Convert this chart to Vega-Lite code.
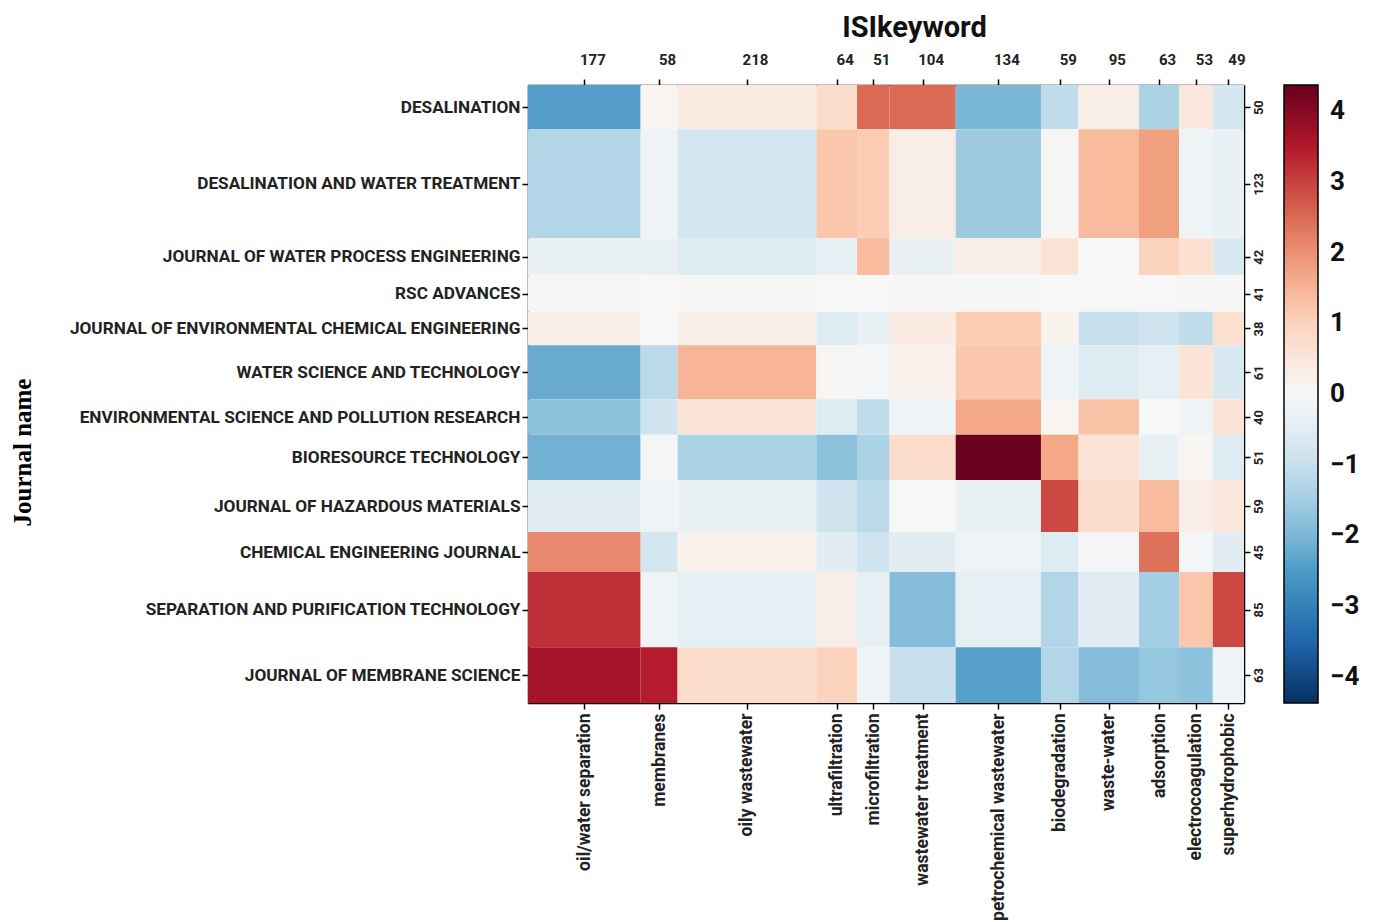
{
  "$schema": "https://vega.github.io/schema/vega-lite/v6.json",
  "width": 716,
  "height": 618,
  "autosize": {"type": "none"},
  "padding": {"left": 528, "top": 85, "right": 133, "bottom": 219},
  "background": "white",
  "datasets": {
    "keywords": [
      {"keyword": "oil/water separation", "kcount": 177, "korder": 1},
      {"keyword": "membranes", "kcount": 58, "korder": 2},
      {"keyword": "oily wastewater", "kcount": 218, "korder": 3},
      {"keyword": "ultrafiltration", "kcount": 64, "korder": 4},
      {"keyword": "microfiltration", "kcount": 51, "korder": 5},
      {"keyword": "wastewater treatment", "kcount": 104, "korder": 6},
      {"keyword": "petrochemical wastewater", "kcount": 134, "korder": 7},
      {"keyword": "biodegradation", "kcount": 59, "korder": 8},
      {"keyword": "waste-water", "kcount": 95, "korder": 9},
      {"keyword": "adsorption", "kcount": 63, "korder": 10},
      {"keyword": "electrocoagulation", "kcount": 53, "korder": 11},
      {"keyword": "superhydrophobic", "kcount": 49, "korder": 12}
    ],
    "journals": [
      {"journal": "DESALINATION", "jcount": 50, "jorder": 1},
      {"journal": "DESALINATION AND WATER TREATMENT", "jcount": 123, "jorder": 2},
      {"journal": "JOURNAL OF WATER PROCESS ENGINEERING", "jcount": 42, "jorder": 3},
      {"journal": "RSC ADVANCES", "jcount": 41, "jorder": 4},
      {"journal": "JOURNAL OF ENVIRONMENTAL CHEMICAL ENGINEERING", "jcount": 38, "jorder": 5},
      {"journal": "WATER SCIENCE AND TECHNOLOGY", "jcount": 61, "jorder": 6},
      {"journal": "ENVIRONMENTAL SCIENCE AND POLLUTION RESEARCH", "jcount": 40, "jorder": 7},
      {"journal": "BIORESOURCE TECHNOLOGY", "jcount": 51, "jorder": 8},
      {"journal": "JOURNAL OF HAZARDOUS MATERIALS", "jcount": 59, "jorder": 9},
      {"journal": "CHEMICAL ENGINEERING JOURNAL", "jcount": 45, "jorder": 10},
      {"journal": "SEPARATION AND PURIFICATION TECHNOLOGY", "jcount": 85, "jorder": 11},
      {"journal": "JOURNAL OF MEMBRANE SCIENCE", "jcount": 63, "jorder": 12}
    ],
    "cells": [
      {"journal": "DESALINATION", "keyword": "oil/water separation", "residual": -2.45},
      {"journal": "DESALINATION", "keyword": "membranes", "residual": 0.1},
      {"journal": "DESALINATION", "keyword": "oily wastewater", "residual": 0.4},
      {"journal": "DESALINATION", "keyword": "ultrafiltration", "residual": 0.8},
      {"journal": "DESALINATION", "keyword": "microfiltration", "residual": 2.5},
      {"journal": "DESALINATION", "keyword": "wastewater treatment", "residual": 2.5},
      {"journal": "DESALINATION", "keyword": "petrochemical wastewater", "residual": -2.0},
      {"journal": "DESALINATION", "keyword": "biodegradation", "residual": -1.1},
      {"journal": "DESALINATION", "keyword": "waste-water", "residual": 0.3},
      {"journal": "DESALINATION", "keyword": "adsorption", "residual": -1.4},
      {"journal": "DESALINATION", "keyword": "electrocoagulation", "residual": 0.5},
      {"journal": "DESALINATION", "keyword": "superhydrophobic", "residual": -0.8},
      {"journal": "DESALINATION AND WATER TREATMENT", "keyword": "oil/water separation", "residual": -1.3},
      {"journal": "DESALINATION AND WATER TREATMENT", "keyword": "membranes", "residual": -0.2},
      {"journal": "DESALINATION AND WATER TREATMENT", "keyword": "oily wastewater", "residual": -0.8},
      {"journal": "DESALINATION AND WATER TREATMENT", "keyword": "ultrafiltration", "residual": 1.2},
      {"journal": "DESALINATION AND WATER TREATMENT", "keyword": "microfiltration", "residual": 1.1},
      {"journal": "DESALINATION AND WATER TREATMENT", "keyword": "wastewater treatment", "residual": 0.3},
      {"journal": "DESALINATION AND WATER TREATMENT", "keyword": "petrochemical wastewater", "residual": -1.6},
      {"journal": "DESALINATION AND WATER TREATMENT", "keyword": "biodegradation", "residual": 0.05},
      {"journal": "DESALINATION AND WATER TREATMENT", "keyword": "waste-water", "residual": 1.4},
      {"journal": "DESALINATION AND WATER TREATMENT", "keyword": "adsorption", "residual": 1.8},
      {"journal": "DESALINATION AND WATER TREATMENT", "keyword": "electrocoagulation", "residual": -0.2},
      {"journal": "DESALINATION AND WATER TREATMENT", "keyword": "superhydrophobic", "residual": -0.3},
      {"journal": "JOURNAL OF WATER PROCESS ENGINEERING", "keyword": "oil/water separation", "residual": -0.3},
      {"journal": "JOURNAL OF WATER PROCESS ENGINEERING", "keyword": "membranes", "residual": -0.35},
      {"journal": "JOURNAL OF WATER PROCESS ENGINEERING", "keyword": "oily wastewater", "residual": -0.6},
      {"journal": "JOURNAL OF WATER PROCESS ENGINEERING", "keyword": "ultrafiltration", "residual": -0.4},
      {"journal": "JOURNAL OF WATER PROCESS ENGINEERING", "keyword": "microfiltration", "residual": 1.4},
      {"journal": "JOURNAL OF WATER PROCESS ENGINEERING", "keyword": "wastewater treatment", "residual": -0.3},
      {"journal": "JOURNAL OF WATER PROCESS ENGINEERING", "keyword": "petrochemical wastewater", "residual": 0.3},
      {"journal": "JOURNAL OF WATER PROCESS ENGINEERING", "keyword": "biodegradation", "residual": 0.6},
      {"journal": "JOURNAL OF WATER PROCESS ENGINEERING", "keyword": "waste-water", "residual": 0.0},
      {"journal": "JOURNAL OF WATER PROCESS ENGINEERING", "keyword": "adsorption", "residual": 1.0},
      {"journal": "JOURNAL OF WATER PROCESS ENGINEERING", "keyword": "electrocoagulation", "residual": 0.7},
      {"journal": "JOURNAL OF WATER PROCESS ENGINEERING", "keyword": "superhydrophobic", "residual": -0.7},
      {"journal": "RSC ADVANCES", "keyword": "oil/water separation", "residual": 0.05},
      {"journal": "RSC ADVANCES", "keyword": "membranes", "residual": 0.0},
      {"journal": "RSC ADVANCES", "keyword": "oily wastewater", "residual": 0.02},
      {"journal": "RSC ADVANCES", "keyword": "ultrafiltration", "residual": 0.0},
      {"journal": "RSC ADVANCES", "keyword": "microfiltration", "residual": 0.0},
      {"journal": "RSC ADVANCES", "keyword": "wastewater treatment", "residual": 0.02},
      {"journal": "RSC ADVANCES", "keyword": "petrochemical wastewater", "residual": 0.02},
      {"journal": "RSC ADVANCES", "keyword": "biodegradation", "residual": 0.0},
      {"journal": "RSC ADVANCES", "keyword": "waste-water", "residual": 0.0},
      {"journal": "RSC ADVANCES", "keyword": "adsorption", "residual": 0.0},
      {"journal": "RSC ADVANCES", "keyword": "electrocoagulation", "residual": 0.02},
      {"journal": "RSC ADVANCES", "keyword": "superhydrophobic", "residual": 0.02},
      {"journal": "JOURNAL OF ENVIRONMENTAL CHEMICAL ENGINEERING", "keyword": "oil/water separation", "residual": 0.3},
      {"journal": "JOURNAL OF ENVIRONMENTAL CHEMICAL ENGINEERING", "keyword": "membranes", "residual": 0.0},
      {"journal": "JOURNAL OF ENVIRONMENTAL CHEMICAL ENGINEERING", "keyword": "oily wastewater", "residual": 0.25},
      {"journal": "JOURNAL OF ENVIRONMENTAL CHEMICAL ENGINEERING", "keyword": "ultrafiltration", "residual": -0.6},
      {"journal": "JOURNAL OF ENVIRONMENTAL CHEMICAL ENGINEERING", "keyword": "microfiltration", "residual": -0.3},
      {"journal": "JOURNAL OF ENVIRONMENTAL CHEMICAL ENGINEERING", "keyword": "wastewater treatment", "residual": 0.4},
      {"journal": "JOURNAL OF ENVIRONMENTAL CHEMICAL ENGINEERING", "keyword": "petrochemical wastewater", "residual": 1.1},
      {"journal": "JOURNAL OF ENVIRONMENTAL CHEMICAL ENGINEERING", "keyword": "biodegradation", "residual": 0.2},
      {"journal": "JOURNAL OF ENVIRONMENTAL CHEMICAL ENGINEERING", "keyword": "waste-water", "residual": -1.0},
      {"journal": "JOURNAL OF ENVIRONMENTAL CHEMICAL ENGINEERING", "keyword": "adsorption", "residual": -0.9},
      {"journal": "JOURNAL OF ENVIRONMENTAL CHEMICAL ENGINEERING", "keyword": "electrocoagulation", "residual": -1.1},
      {"journal": "JOURNAL OF ENVIRONMENTAL CHEMICAL ENGINEERING", "keyword": "superhydrophobic", "residual": 0.7},
      {"journal": "WATER SCIENCE AND TECHNOLOGY", "keyword": "oil/water separation", "residual": -2.2},
      {"journal": "WATER SCIENCE AND TECHNOLOGY", "keyword": "membranes", "residual": -1.2},
      {"journal": "WATER SCIENCE AND TECHNOLOGY", "keyword": "oily wastewater", "residual": 1.5},
      {"journal": "WATER SCIENCE AND TECHNOLOGY", "keyword": "ultrafiltration", "residual": 0.05},
      {"journal": "WATER SCIENCE AND TECHNOLOGY", "keyword": "microfiltration", "residual": -0.1},
      {"journal": "WATER SCIENCE AND TECHNOLOGY", "keyword": "wastewater treatment", "residual": 0.2},
      {"journal": "WATER SCIENCE AND TECHNOLOGY", "keyword": "petrochemical wastewater", "residual": 1.2},
      {"journal": "WATER SCIENCE AND TECHNOLOGY", "keyword": "biodegradation", "residual": -0.2},
      {"journal": "WATER SCIENCE AND TECHNOLOGY", "keyword": "waste-water", "residual": -0.6},
      {"journal": "WATER SCIENCE AND TECHNOLOGY", "keyword": "adsorption", "residual": -0.4},
      {"journal": "WATER SCIENCE AND TECHNOLOGY", "keyword": "electrocoagulation", "residual": 0.6},
      {"journal": "WATER SCIENCE AND TECHNOLOGY", "keyword": "superhydrophobic", "residual": -0.7},
      {"journal": "ENVIRONMENTAL SCIENCE AND POLLUTION RESEARCH", "keyword": "oil/water separation", "residual": -1.8},
      {"journal": "ENVIRONMENTAL SCIENCE AND POLLUTION RESEARCH", "keyword": "membranes", "residual": -0.9},
      {"journal": "ENVIRONMENTAL SCIENCE AND POLLUTION RESEARCH", "keyword": "oily wastewater", "residual": 0.6},
      {"journal": "ENVIRONMENTAL SCIENCE AND POLLUTION RESEARCH", "keyword": "ultrafiltration", "residual": -0.6},
      {"journal": "ENVIRONMENTAL SCIENCE AND POLLUTION RESEARCH", "keyword": "microfiltration", "residual": -1.1},
      {"journal": "ENVIRONMENTAL SCIENCE AND POLLUTION RESEARCH", "keyword": "wastewater treatment", "residual": -0.2},
      {"journal": "ENVIRONMENTAL SCIENCE AND POLLUTION RESEARCH", "keyword": "petrochemical wastewater", "residual": 1.7},
      {"journal": "ENVIRONMENTAL SCIENCE AND POLLUTION RESEARCH", "keyword": "biodegradation", "residual": 0.1},
      {"journal": "ENVIRONMENTAL SCIENCE AND POLLUTION RESEARCH", "keyword": "waste-water", "residual": 1.3},
      {"journal": "ENVIRONMENTAL SCIENCE AND POLLUTION RESEARCH", "keyword": "adsorption", "residual": 0.0},
      {"journal": "ENVIRONMENTAL SCIENCE AND POLLUTION RESEARCH", "keyword": "electrocoagulation", "residual": -0.2},
      {"journal": "ENVIRONMENTAL SCIENCE AND POLLUTION RESEARCH", "keyword": "superhydrophobic", "residual": 0.6},
      {"journal": "BIORESOURCE TECHNOLOGY", "keyword": "oil/water separation", "residual": -2.1},
      {"journal": "BIORESOURCE TECHNOLOGY", "keyword": "membranes", "residual": -0.1},
      {"journal": "BIORESOURCE TECHNOLOGY", "keyword": "oily wastewater", "residual": -1.4},
      {"journal": "BIORESOURCE TECHNOLOGY", "keyword": "ultrafiltration", "residual": -1.8},
      {"journal": "BIORESOURCE TECHNOLOGY", "keyword": "microfiltration", "residual": -1.4},
      {"journal": "BIORESOURCE TECHNOLOGY", "keyword": "wastewater treatment", "residual": 0.8},
      {"journal": "BIORESOURCE TECHNOLOGY", "keyword": "petrochemical wastewater", "residual": 4.35},
      {"journal": "BIORESOURCE TECHNOLOGY", "keyword": "biodegradation", "residual": 1.7},
      {"journal": "BIORESOURCE TECHNOLOGY", "keyword": "waste-water", "residual": 0.6},
      {"journal": "BIORESOURCE TECHNOLOGY", "keyword": "adsorption", "residual": -0.3},
      {"journal": "BIORESOURCE TECHNOLOGY", "keyword": "electrocoagulation", "residual": 0.1},
      {"journal": "BIORESOURCE TECHNOLOGY", "keyword": "superhydrophobic", "residual": -0.6},
      {"journal": "JOURNAL OF HAZARDOUS MATERIALS", "keyword": "oil/water separation", "residual": -0.5},
      {"journal": "JOURNAL OF HAZARDOUS MATERIALS", "keyword": "membranes", "residual": -0.2},
      {"journal": "JOURNAL OF HAZARDOUS MATERIALS", "keyword": "oily wastewater", "residual": -0.3},
      {"journal": "JOURNAL OF HAZARDOUS MATERIALS", "keyword": "ultrafiltration", "residual": -0.9},
      {"journal": "JOURNAL OF HAZARDOUS MATERIALS", "keyword": "microfiltration", "residual": -1.2},
      {"journal": "JOURNAL OF HAZARDOUS MATERIALS", "keyword": "wastewater treatment", "residual": 0.0},
      {"journal": "JOURNAL OF HAZARDOUS MATERIALS", "keyword": "petrochemical wastewater", "residual": -0.3},
      {"journal": "JOURNAL OF HAZARDOUS MATERIALS", "keyword": "biodegradation", "residual": 2.9},
      {"journal": "JOURNAL OF HAZARDOUS MATERIALS", "keyword": "waste-water", "residual": 0.8},
      {"journal": "JOURNAL OF HAZARDOUS MATERIALS", "keyword": "adsorption", "residual": 1.4},
      {"journal": "JOURNAL OF HAZARDOUS MATERIALS", "keyword": "electrocoagulation", "residual": 0.3},
      {"journal": "JOURNAL OF HAZARDOUS MATERIALS", "keyword": "superhydrophobic", "residual": 0.5},
      {"journal": "CHEMICAL ENGINEERING JOURNAL", "keyword": "oil/water separation", "residual": 2.1},
      {"journal": "CHEMICAL ENGINEERING JOURNAL", "keyword": "membranes", "residual": -0.8},
      {"journal": "CHEMICAL ENGINEERING JOURNAL", "keyword": "oily wastewater", "residual": 0.2},
      {"journal": "CHEMICAL ENGINEERING JOURNAL", "keyword": "ultrafiltration", "residual": -0.5},
      {"journal": "CHEMICAL ENGINEERING JOURNAL", "keyword": "microfiltration", "residual": -0.9},
      {"journal": "CHEMICAL ENGINEERING JOURNAL", "keyword": "wastewater treatment", "residual": -0.5},
      {"journal": "CHEMICAL ENGINEERING JOURNAL", "keyword": "petrochemical wastewater", "residual": -0.2},
      {"journal": "CHEMICAL ENGINEERING JOURNAL", "keyword": "biodegradation", "residual": -0.6},
      {"journal": "CHEMICAL ENGINEERING JOURNAL", "keyword": "waste-water", "residual": -0.1},
      {"journal": "CHEMICAL ENGINEERING JOURNAL", "keyword": "adsorption", "residual": 2.4},
      {"journal": "CHEMICAL ENGINEERING JOURNAL", "keyword": "electrocoagulation", "residual": -0.1},
      {"journal": "CHEMICAL ENGINEERING JOURNAL", "keyword": "superhydrophobic", "residual": -0.5},
      {"journal": "SEPARATION AND PURIFICATION TECHNOLOGY", "keyword": "oil/water separation", "residual": 3.2},
      {"journal": "SEPARATION AND PURIFICATION TECHNOLOGY", "keyword": "membranes", "residual": -0.2},
      {"journal": "SEPARATION AND PURIFICATION TECHNOLOGY", "keyword": "oily wastewater", "residual": -0.4},
      {"journal": "SEPARATION AND PURIFICATION TECHNOLOGY", "keyword": "ultrafiltration", "residual": 0.3},
      {"journal": "SEPARATION AND PURIFICATION TECHNOLOGY", "keyword": "microfiltration", "residual": -0.4},
      {"journal": "SEPARATION AND PURIFICATION TECHNOLOGY", "keyword": "wastewater treatment", "residual": -1.9},
      {"journal": "SEPARATION AND PURIFICATION TECHNOLOGY", "keyword": "petrochemical wastewater", "residual": -0.4},
      {"journal": "SEPARATION AND PURIFICATION TECHNOLOGY", "keyword": "biodegradation", "residual": -1.3},
      {"journal": "SEPARATION AND PURIFICATION TECHNOLOGY", "keyword": "waste-water", "residual": -0.5},
      {"journal": "SEPARATION AND PURIFICATION TECHNOLOGY", "keyword": "adsorption", "residual": -1.5},
      {"journal": "SEPARATION AND PURIFICATION TECHNOLOGY", "keyword": "electrocoagulation", "residual": 1.2},
      {"journal": "SEPARATION AND PURIFICATION TECHNOLOGY", "keyword": "superhydrophobic", "residual": 2.9},
      {"journal": "JOURNAL OF MEMBRANE SCIENCE", "keyword": "oil/water separation", "residual": 3.65},
      {"journal": "JOURNAL OF MEMBRANE SCIENCE", "keyword": "membranes", "residual": 3.45},
      {"journal": "JOURNAL OF MEMBRANE SCIENCE", "keyword": "oily wastewater", "residual": 0.8},
      {"journal": "JOURNAL OF MEMBRANE SCIENCE", "keyword": "ultrafiltration", "residual": 1.0},
      {"journal": "JOURNAL OF MEMBRANE SCIENCE", "keyword": "microfiltration", "residual": -0.2},
      {"journal": "JOURNAL OF MEMBRANE SCIENCE", "keyword": "wastewater treatment", "residual": -1.0},
      {"journal": "JOURNAL OF MEMBRANE SCIENCE", "keyword": "petrochemical wastewater", "residual": -2.4},
      {"journal": "JOURNAL OF MEMBRANE SCIENCE", "keyword": "biodegradation", "residual": -1.3},
      {"journal": "JOURNAL OF MEMBRANE SCIENCE", "keyword": "waste-water", "residual": -1.9},
      {"journal": "JOURNAL OF MEMBRANE SCIENCE", "keyword": "adsorption", "residual": -1.7},
      {"journal": "JOURNAL OF MEMBRANE SCIENCE", "keyword": "electrocoagulation", "residual": -1.8},
      {"journal": "JOURNAL OF MEMBRANE SCIENCE", "keyword": "superhydrophobic", "residual": -0.2}
    ]
  },
  "data": {"name": "cells"},
  "transform": [
    {"lookup": "keyword", "from": {"data": {"name": "keywords"}, "key": "keyword", "fields": ["kcount", "korder"]}},
    {"lookup": "journal", "from": {"data": {"name": "journals"}, "key": "journal", "fields": ["jcount", "jorder"]}},
    {"window": [{"op": "sum", "field": "kcount", "as": "xEnd"}], "groupby": ["journal"], "sort": [{"field": "korder", "order": "ascending"}], "frame": [null, 0]},
    {"window": [{"op": "sum", "field": "jcount", "as": "yEnd"}], "groupby": ["keyword"], "sort": [{"field": "jorder", "order": "ascending"}], "frame": [null, 0]},
    {"calculate": "datum.xEnd - datum.kcount", "as": "xStart"},
    {"calculate": "datum.yEnd - datum.jcount", "as": "yStart"}
  ],
  "layer": [
    {
      "mark": {"type": "rect"},
      "encoding": {
        "x": {
          "field": "xStart", "type": "quantitative",
          "scale": {"domain": [0, 1125], "nice": false, "zero": false},
          "axis": {
            "orient": "bottom", "title": null,
            "values": [88.5, 206, 344, 485, 542.5, 620, 739, 835.5, 912.5, 991.5, 1049.5, 1100.5],
            "labelExpr": "['oil/water separation','membranes','oily wastewater','ultrafiltration','microfiltration','wastewater treatment','petrochemical wastewater','biodegradation','waste-water','adsorption','electrocoagulation','superhydrophobic'][indexof([88.5, 206, 344, 485, 542.5, 620, 739, 835.5, 912.5, 991.5, 1049.5, 1100.5], datum.value)]",
            "labelAngle": 270, "labelAlign": "right", "labelBaseline": "middle",
            "labelFontSize": 17.5, "labelPadding": 4, "labelOverlap": false, "labelFlush": false, "labelLimit": 0
          }
        },
        "x2": {"field": "xEnd"},
        "y": {
          "field": "yStart", "type": "quantitative",
          "scale": {"domain": [0, 698], "nice": false, "zero": false, "reverse": true},
          "axis": {
            "orient": "left",
            "values": [25, 111.5, 194, 235.5, 275, 324.5, 375, 420.5, 475.5, 527.5, 592.5, 666.5],
            "labelExpr": "['DESALINATION','DESALINATION AND WATER TREATMENT','JOURNAL OF WATER PROCESS ENGINEERING','RSC ADVANCES','JOURNAL OF ENVIRONMENTAL CHEMICAL ENGINEERING','WATER SCIENCE AND TECHNOLOGY','ENVIRONMENTAL SCIENCE AND POLLUTION RESEARCH','BIORESOURCE TECHNOLOGY','JOURNAL OF HAZARDOUS MATERIALS','CHEMICAL ENGINEERING JOURNAL','SEPARATION AND PURIFICATION TECHNOLOGY','JOURNAL OF MEMBRANE SCIENCE'][indexof([25, 111.5, 194, 235.5, 275, 324.5, 375, 420.5, 475.5, 527.5, 592.5, 666.5], datum.value)]",
            "labelFontSize": 17.2, "labelPadding": 2, "labelOverlap": false, "labelFlush": false, "labelLimit": 0,
            "title": "Journal name",
            "titleFont": "Liberation Serif", "titleFontSize": 25, "titleFontWeight": "bold", "titleColor": "black",
            "titleAngle": 270, "titleAlign": "center", "titleBaseline": "middle",
            "titleX": -506, "titleY": 367
          }
        },
        "y2": {"field": "yEnd"},
        "color": {
          "field": "residual", "type": "quantitative",
          "scale": {
            "domain": [-4.37, -3.496, -2.622, -1.748, -0.874, 0, 0.874, 1.748, 2.622, 3.496, 4.37],
            "range": ["#053061", "#2166ac", "#4393c3", "#92c5de", "#d1e5f0", "#f7f7f7", "#fddbc7", "#f4a582", "#d6604d", "#b2182b", "#67001f"],
            "interpolate": "rgb"
          },
          "legend": {
            "orient": "none", "legendX": 756, "legendY": 0,
            "direction": "vertical", "title": null,
            "gradientLength": 618, "gradientThickness": 34,
            "gradientStrokeColor": "black", "gradientStrokeWidth": 1.5,
            "values": [-4, -3, -2, -1, 0, 1, 2, 3, 4],
            "labelFont": "Roboto", "labelFontWeight": "bold", "labelFontSize": 26,
            "labelColor": "#111", "labelOffset": 12, "labelOverlap": false
          }
        }
      }
    },
    {
      "mark": {"type": "rect", "opacity": 0},
      "encoding": {
        "x": {
          "field": "xStart", "type": "quantitative",
          "axis": {
            "orient": "top",
            "values": [88.5, 206, 344, 485, 542.5, 620, 739, 835.5, 912.5, 991.5, 1049.5, 1100.5],
            "labelExpr": "['177','58','218','64','51','104','134','59','95','63','53','49'][indexof([88.5, 206, 344, 485, 542.5, 620, 739, 835.5, 912.5, 991.5, 1049.5, 1100.5], datum.value)]",
            "labelAngle": 0, "labelFontSize": 15, "labelPadding": 12, "labelOverlap": false, "labelFlush": false, "labelOffset": 8,
            "title": "ISIkeyword", "titleFont": "Roboto", "titleFontSize": 29, "titleFontWeight": "bold", "titleColor": "#111",
            "titlePadding": 10, "titleX": 386, "titleAlign": "center"
          }
        },
        "x2": {"field": "xEnd"},
        "y": {
          "field": "yStart", "type": "quantitative",
          "axis": {
            "orient": "right", "title": null,
            "values": [25, 111.5, 194, 235.5, 275, 324.5, 375, 420.5, 475.5, 527.5, 592.5, 666.5],
            "labelExpr": "['50','123','42','41','38','61','40','51','59','45','85','63'][indexof([25, 111.5, 194, 235.5, 275, 324.5, 375, 420.5, 475.5, 527.5, 592.5, 666.5], datum.value)]",
            "labelAngle": 270,
            "labelFontSize": 13, "labelPadding": 2, "labelOverlap": false, "labelFlush": false
          }
        },
        "y2": {"field": "yEnd"}
      }
    }
  ],
  "resolve": {"axis": {"x": "independent", "y": "independent"}},
  "config": {
    "view": {"stroke": null},
    "axis": {
      "grid": false, "domainColor": "black", "domainWidth": 1.5,
      "tickColor": "black", "tickWidth": 1.5, "tickSize": 6,
      "labelFont": "Roboto", "labelFontWeight": "bold", "labelColor": "#222"
    }
  }
}
